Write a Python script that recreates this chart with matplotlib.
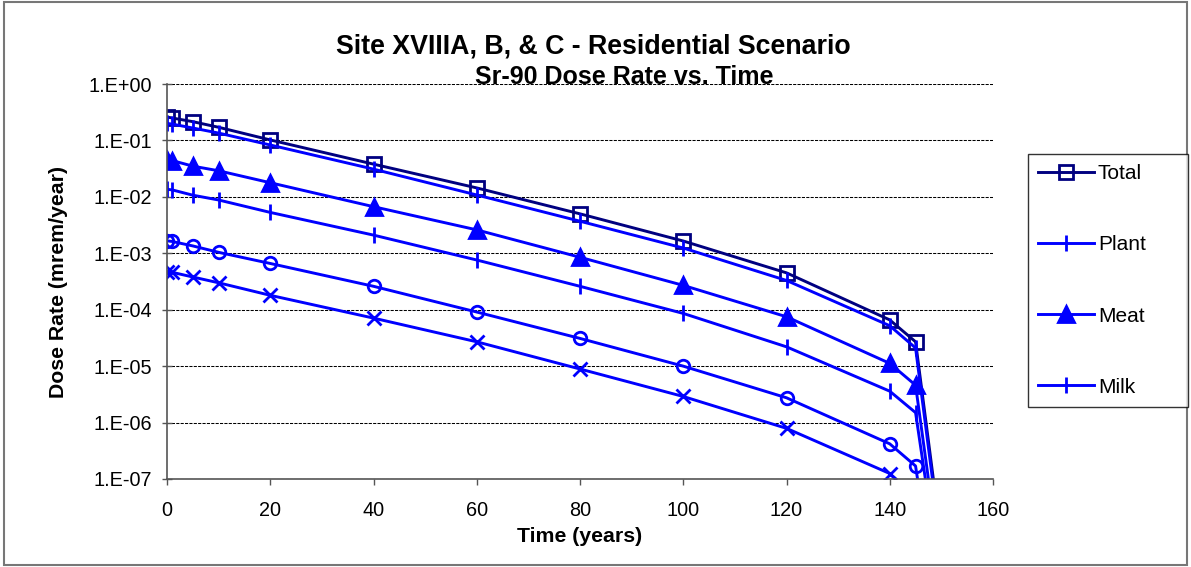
"""Sr-90 dose rate vs. time, residential scenario (Site XVIIIA, B, & C)."""

import numpy as np
import matplotlib

matplotlib.use("Agg")
import matplotlib.pyplot as plt
from matplotlib.ticker import FixedLocator, FuncFormatter, NullLocator

plt.rcParams.update({"font.family": ["Liberation Sans", "DejaVu Sans"],
                     "font.size": 14.3})

# time after closure (years)
years = [0, 1, 5, 10, 20, 40, 60, 80, 100, 120, 140, 145, 150]

# dose rate by pathway (mrem/year)
total = [0.26, 0.25, 0.215, 0.171, 0.102, 0.038, 0.0144, 0.0050, 1.65e-3,
         4.5e-4, 6.6e-5, 2.7e-5, 8e-9]
plant = [0.20, 0.195, 0.166, 0.135, 0.083, 0.031, 0.0108, 3.7e-3, 1.24e-3,
         3.3e-4, 5.2e-5, 2.1e-5, 6e-9]
meat = [0.045, 0.044, 0.035, 0.029, 0.0178, 0.0067, 2.6e-3, 8.5e-4, 2.7e-4,
        7.5e-5, 1.12e-5, 4.6e-6, 2.1e-9]
milk = [0.0136, 0.0133, 0.0107, 0.0088, 0.0053, 0.0021, 7.6e-4, 2.6e-4,
        8.6e-5, 2.2e-5, 3.6e-6, 1.5e-6, 1.2e-9]
# two further pathways that the legend box cuts off
series5 = [1.66e-3, 1.62e-3, 1.35e-3, 1.04e-3, 6.6e-4, 2.6e-4, 9.1e-5,
           3.1e-5, 1.0e-5, 2.75e-6, 4.2e-7, 1.7e-7, 1.7e-10]
series6 = [4.7e-4, 4.6e-4, 3.8e-4, 3.0e-4, 1.8e-4, 7.1e-5, 2.7e-5, 8.9e-6,
           2.9e-6, 7.9e-7, 1.25e-7, 5e-8, 5e-11]

x_ticks = [0, 20, 40, 60, 80, 100, 120, 140, 160]
y_ticks = [1e0, 1e-1, 1e-2, 1e-3, 1e-4, 1e-5, 1e-6, 1e-7]

NAVY, BLUE = "#000080", "#0000ff"

fig = plt.figure(figsize=(11.91, 5.67), dpi=100)
ax = fig.add_axes([167 / 1191, 1 - 479 / 567, 826 / 1191, 395 / 567])

common = dict(lw=2.1, mew=2.0)
ax.plot(years, total, color=NAVY, marker="s", ms=10, mfc="none", label="Total", **common)
ax.plot(years, plant, color=BLUE, marker="|", ms=11, label="Plant", **common)
ax.plot(years, meat, color=BLUE, marker="^", ms=11, label="Meat", **common)
ax.plot(years, milk, color=BLUE, marker="|", ms=11, label="Milk", **common)
ax.plot(years, series5, color=BLUE, marker="o", ms=9, mfc="none", **common)
ax.plot(years, series6, color=BLUE, marker="x", ms=10, **common)

ax.set_yscale("log")
ax.set_xlim(0, 160)
ax.set_ylim(1e-7, 1e0)
ax.xaxis.set_major_locator(FixedLocator(x_ticks))
ax.yaxis.set_major_locator(FixedLocator(y_ticks))
ax.yaxis.set_minor_locator(NullLocator())
ax.yaxis.set_major_formatter(FuncFormatter(lambda v, _: f"1.E{int(round(np.log10(v))):+03d}"))
ax.tick_params(axis="x", direction="out", length=4, width=1, color="#555555", pad=12)
ax.tick_params(axis="y", direction="inout", length=7, width=1, color="#555555", pad=7)

ax.grid(axis="y", color="black", ls=(0, (3, 1.2)), lw=0.75)
ax.set_axisbelow(True)
for side in ("top", "right"):
    ax.spines[side].set_visible(False)
for side in ("left", "bottom"):
    ax.spines[side].set_color("#555555")
    ax.spines[side].set_linewidth(1.2)

ax.set_xlabel("Time (years)", fontweight="bold", fontsize=15.3, labelpad=5)
ax.set_ylabel("Dose Rate (mrem/year)", fontweight="bold", fontsize=15.3, labelpad=15)
fig.text(593 / 1191, 1 - 53 / 567, "Site XVIIIA, B, & C - Residential Scenario",
         ha="center", va="baseline", fontweight="bold", fontsize=19.3)
fig.text(624 / 1191, 1 - 84 / 567, "Sr-90 Dose Rate vs. Time",
         ha="center", va="baseline", fontweight="bold", fontsize=18)

leg = fig.legend(loc="upper left", mode="expand",
                 bbox_to_anchor=(1028 / 1191, 1 - 406 / 567, 160 / 1191, 252 / 567),
                 frameon=True, fancybox=False, edgecolor="black", fontsize=15,
                 labelspacing=2.5, handlelength=2.65, handletextpad=0.2,
                 borderpad=0.5, borderaxespad=0)
leg.get_frame().set_linewidth(1.0)

fig.patches.append(plt.Rectangle((0.003, 0.003), 0.994, 0.994, transform=fig.transFigure,
                                 fill=False, ec="#777777", lw=1.5))

fig.savefig("out.png", dpi=100)
